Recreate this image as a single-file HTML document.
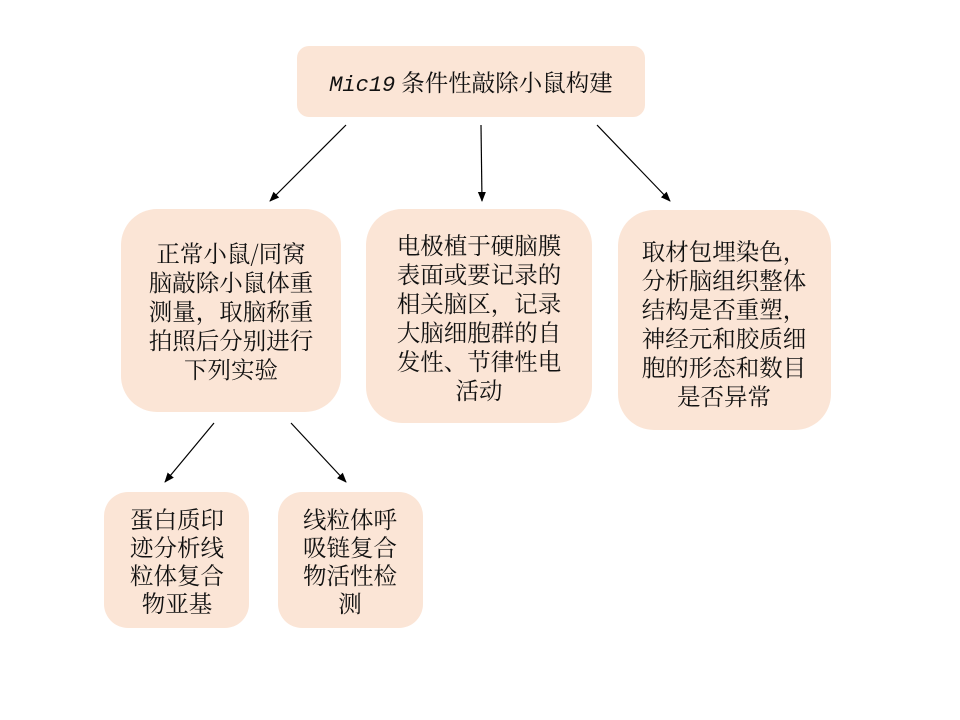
<!DOCTYPE html>
<html><head><meta charset="utf-8"><style>
html,body{margin:0;padding:0;background:#fff;}
svg{display:block}
text{font-family:"Noto Serif CJK SC","Liberation Serif","Noto Sans CJK SC",serif;fill:#111;}
</style></head><body>
<svg width="960" height="720" viewBox="0 0 960 720" xmlns="http://www.w3.org/2000/svg">
<defs><marker id="a" markerWidth="10" markerHeight="10" refX="9" refY="5" orient="auto" markerUnits="userSpaceOnUse"><path d="M0,1 L10,5 L0,9 z" fill="#000"/></marker></defs>
<g fill="#fbe5d6">
<rect x="297" y="46" width="348" height="71" rx="12"/>
<rect x="121" y="209" width="220" height="203" rx="36"/>
<rect x="366" y="209" width="226" height="214" rx="36"/>
<rect x="618" y="210" width="213" height="220" rx="36"/>
<rect x="104" y="492" width="145" height="136" rx="24"/>
<rect x="278" y="492" width="145" height="136" rx="24"/>
</g>
<g stroke="#000" stroke-width="1.2" marker-end="url(#a)">
<line x1="346" y1="125" x2="270" y2="201"/>
<line x1="481" y1="125" x2="482" y2="201"/>
<line x1="597" y1="125" x2="670" y2="201"/>
<line x1="214" y1="423" x2="165" y2="482"/>
<line x1="291" y1="423" x2="346" y2="482"/>
</g>
<text x="471" y="91" font-size="23.5" text-anchor="middle"><tspan font-style="italic" font-family="Liberation Mono, monospace" font-size="22">Mic19</tspan> 条件性敲除小鼠构建</text>
<g font-size="23.5" text-anchor="middle">
<text x="231" y="262">正常小鼠/同窝</text>
<text x="231" y="291">脑敲除小鼠体重</text>
<text x="231" y="320">测量，取脑称重</text>
<text x="231" y="349">拍照后分别进行</text>
<text x="231" y="378">下列实验</text>
<text x="479" y="254">电极植于硬脑膜</text>
<text x="479" y="283">表面或要记录的</text>
<text x="479" y="312">相关脑区，记录</text>
<text x="479" y="341">大脑细胞群的自</text>
<text x="479" y="370">发性、节律性电</text>
<text x="479" y="399">活动</text>
<text x="724" y="260">取材包埋染色，</text>
<text x="724" y="289">分析脑组织整体</text>
<text x="724" y="318">结构是否重塑，</text>
<text x="724" y="347">神经元和胶质细</text>
<text x="724" y="376">胞的形态和数目</text>
<text x="724" y="405">是否异常</text>
<text x="177" y="528">蛋白质印</text>
<text x="177" y="556">迹分析线</text>
<text x="177" y="584">粒体复合</text>
<text x="177" y="612">物亚基</text>
<text x="350" y="528">线粒体呼</text>
<text x="350" y="556">吸链复合</text>
<text x="350" y="584">物活性检</text>
<text x="350" y="612">测</text>
</g>
</svg>
</body></html>
